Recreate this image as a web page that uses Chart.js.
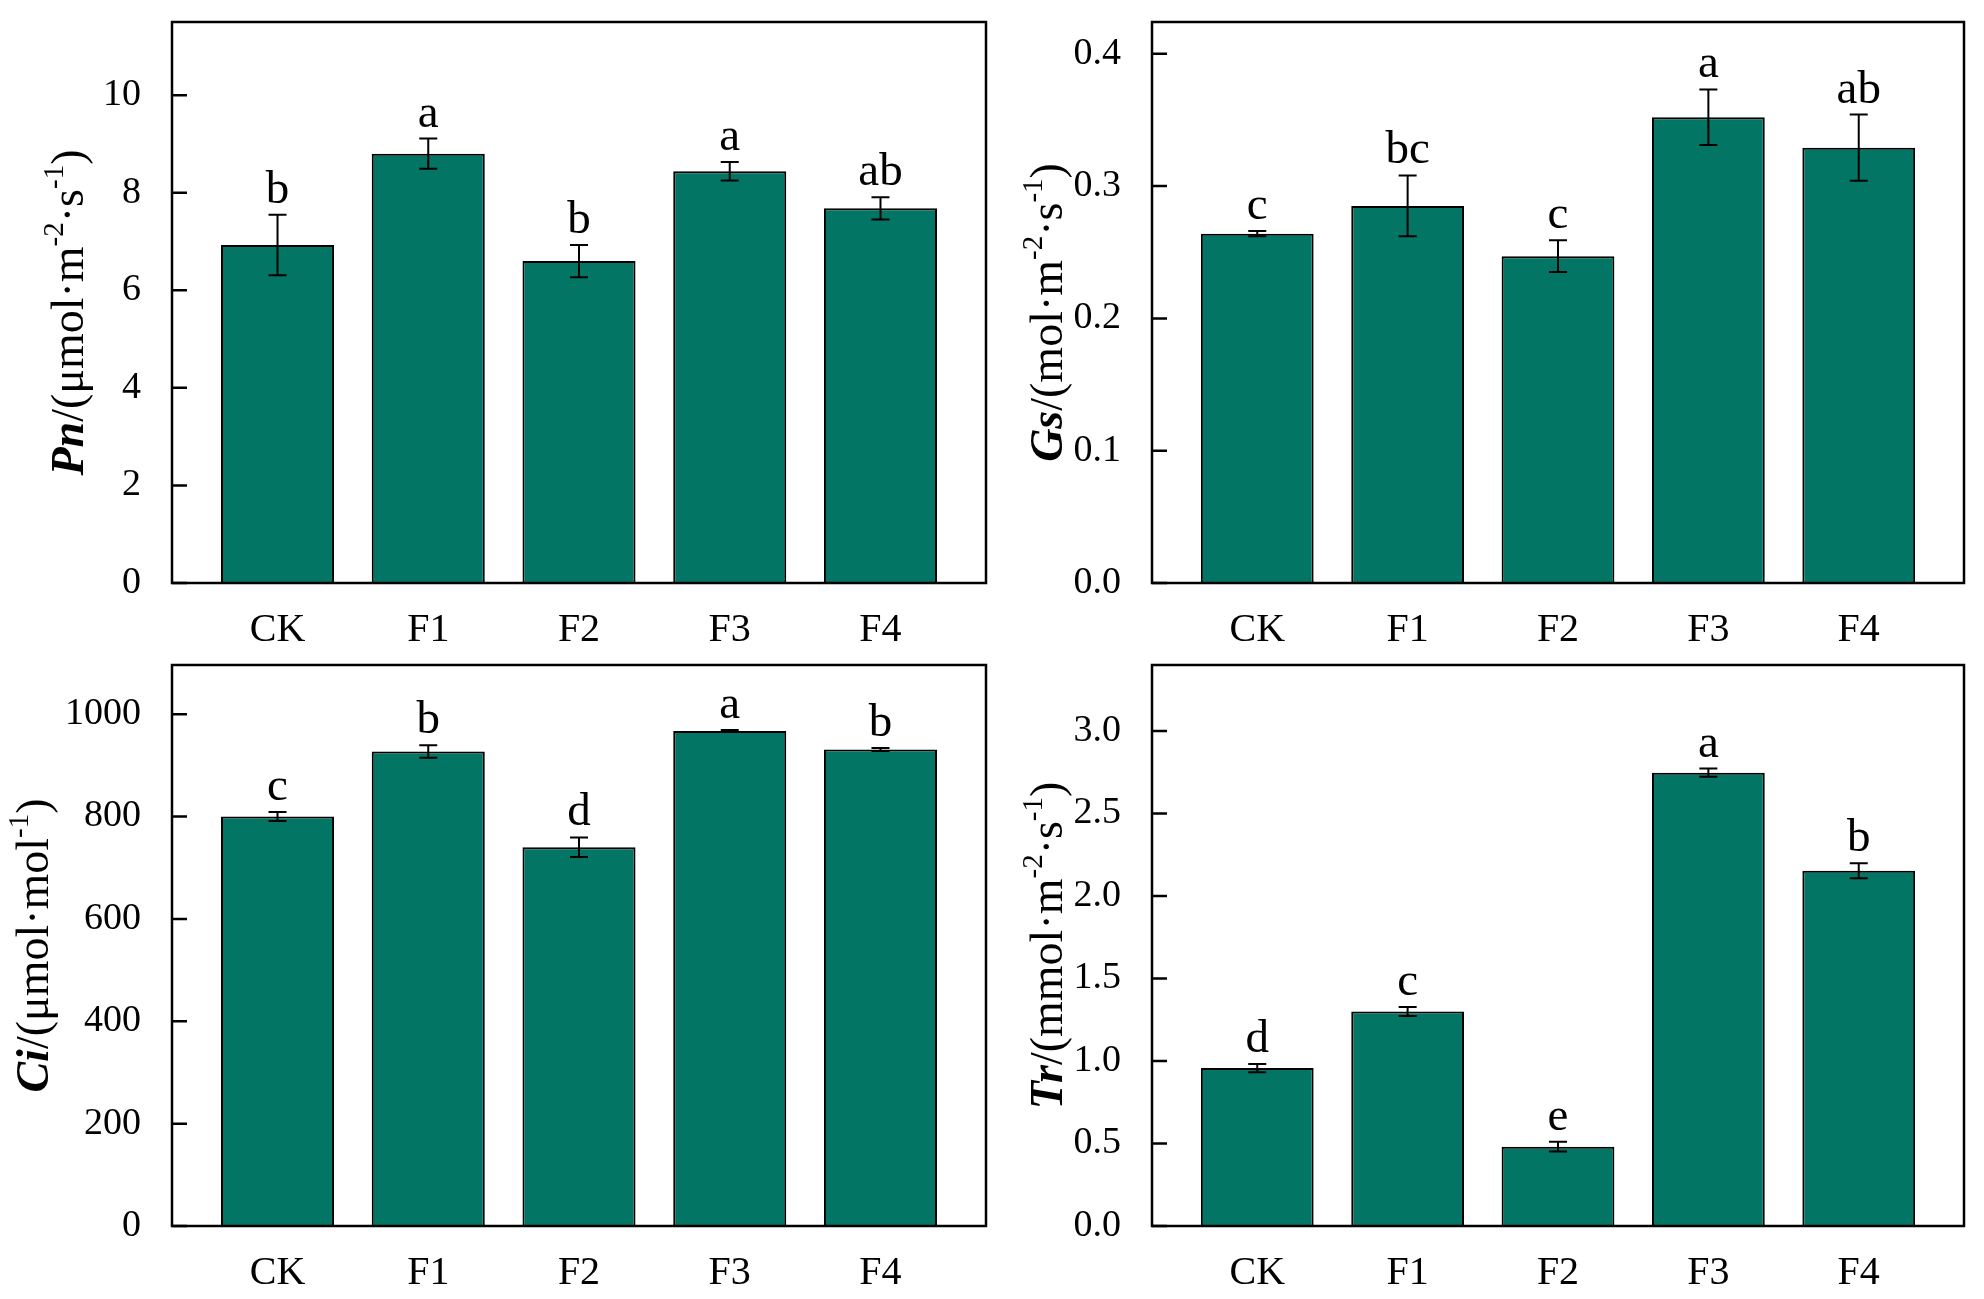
<!DOCTYPE html>
<html><head><meta charset="utf-8">
<script src="https://cdn.jsdelivr.net/npm/chart.js@4"></script>
<style>
html,body{margin:0;padding:0;background:#fff;}
#wrap{position:relative;width:1984px;height:1299px;background:#fff;}
canvas{position:absolute;}
</style></head><body>
<div id="wrap">
<canvas id="c1" width="992" height="650" style="left:0px;top:0px;width:992px;height:650px"></canvas>
<canvas id="c2" width="992" height="650" style="left:992px;top:0px;width:992px;height:650px"></canvas>
<canvas id="c3" width="992" height="649" style="left:0px;top:650px;width:992px;height:649px"></canvas>
<canvas id="c4" width="992" height="649" style="left:992px;top:650px;width:992px;height:649px"></canvas>
</div>
<script>
// ---- data ----
const categories = ['CK', 'F1', 'F2', 'F3', 'F4'];

const pnValues  = [6.93, 8.80, 6.60, 8.44, 7.68];
const pnErrors  = [0.62, 0.31, 0.33, 0.19, 0.23];
const pnLetters = ['b', 'a', 'b', 'a', 'ab'];
const pnTicks   = [0, 2, 4, 6, 8, 10];
const pnMax     = 11.5;

const gsValues  = [0.264, 0.285, 0.247, 0.352, 0.329];
const gsErrors  = [0.002, 0.023, 0.012, 0.021, 0.025];
const gsLetters = ['c', 'bc', 'c', 'a', 'ab'];
const gsTicks   = [0.0, 0.1, 0.2, 0.3, 0.4];
const gsMax     = 0.424;

const ciValues  = [800, 927, 740, 967, 931];
const ciErrors  = [9, 12, 19, 2, 3];
const ciLetters = ['c', 'b', 'd', 'a', 'b'];
const ciTicks   = [0, 200, 400, 600, 800, 1000];
const ciMax     = 1096;

const trValues  = [0.957, 1.30, 0.481, 2.747, 2.153];
const trErrors  = [0.025, 0.028, 0.030, 0.025, 0.045];
const trLetters = ['d', 'c', 'e', 'a', 'b'];
const trTicks   = [0.0, 0.5, 1.0, 1.5, 2.0, 2.5, 3.0];
const trMax     = 3.4;

// y-axis titles: [text, style] parts; style: 'v' variable (bold italic), 'n' normal, 's' superscript
const pnTitle = [['Pn','v'], ['/(μmol·m','n'], ['-2','s'], ['·s','n'], ['-1','s'], [')','n']];
const gsTitle = [['Gs','v'], ['/(mol·m','n'], ['-2','s'], ['·s','n'], ['-1','s'], [')','n']];
const ciTitle = [['Ci','v'], ['/(μmol·mol','n'], ['-1','s'], [')','n']];
const trTitle = [['Tr','v'], ['/(mmol·m','n'], ['-2','s'], ['·s','n'], ['-1','s'], [')','n']];

// ---- styling ----
const FONT = '"Liberation Serif", "Times New Roman", serif';
const BAR_COLOR = '#027564';
Chart.defaults.font.family = FONT;
Chart.defaults.color = '#000';

const decoPlugin = {
  id: 'deco',
  afterDatasetsDraw(chart) {
    const o = chart.options.plugins.deco;
    const ctx = chart.ctx;
    const xs = chart.scales.x, ys = chart.scales.y;
    const ca = chart.chartArea;
    ctx.save();
    // error bars + significance letters
    ctx.strokeStyle = '#000';
    ctx.lineWidth = 2;
    ctx.font = '47px ' + FONT;
    ctx.fillStyle = '#000';
    ctx.textAlign = 'center';
    ctx.textBaseline = 'alphabetic';
    o.values.forEach((v, i) => {
      const x = xs.getPixelForValue(i);
      const yt = ys.getPixelForValue(v + o.errors[i]);
      const yb = ys.getPixelForValue(v - o.errors[i]);
      const cap = 9;
      ctx.beginPath();
      ctx.moveTo(x, yt); ctx.lineTo(x, yb);
      ctx.moveTo(x - cap, yt); ctx.lineTo(x + cap, yt);
      ctx.moveTo(x - cap, yb); ctx.lineTo(x + cap, yb);
      ctx.stroke();
      ctx.fillText(o.letters[i], x, yt - 12);
    });
    // frame
    ctx.lineWidth = 2.5;
    ctx.strokeRect(ca.left, ca.top, ca.right - ca.left, ca.bottom - ca.top);
    // inward y ticks
    ctx.beginPath();
    ys.ticks.forEach(t => {
      const y = ys.getPixelForValue(t.value);
      ctx.moveTo(ca.left, y); ctx.lineTo(ca.left + 15, y);
    });
    ctx.stroke();
    // y title
    const size = 46;
    const parts = o.title.map(([t, s]) => {
      const f = s === 'v' ? 'italic bold ' + size + 'px ' + FONT
              : s === 's' ? Math.round(size * 0.62) + 'px ' + FONT
              : size + 'px ' + FONT;
      ctx.font = f;
      return {t, s, f, w: ctx.measureText(t).width};
    });
    const total = parts.reduce((a, p) => a + p.w, 0);
    const cy = (ca.top + ca.bottom) / 2 + o.titleShift;
    ctx.translate(o.titleX, cy);
    ctx.rotate(-Math.PI / 2);
    ctx.textAlign = 'left';
    ctx.textBaseline = 'middle';
    let px = -total / 2;
    parts.forEach(p => {
      ctx.font = p.f;
      ctx.fillText(p.t, px, p.s === 's' ? -size * 0.33 : 0);
      px += p.w;
    });
    ctx.restore();
  }
};

function makeChart(id, values, errors, letters, ticks, yMax, decimals, title, box) {
  const canvas = document.getElementById(id);
  const W = canvas.width, H = canvas.height;
  return new Chart(canvas, {
    type: 'bar',
    data: {
      datasets: [{
        data: values.map((v, i) => ({x: i, y: v})),
        backgroundColor: BAR_COLOR,
        borderColor: '#000',
        borderWidth: 2,
        borderSkipped: 'start',
        categoryPercentage: 1.0,
        barPercentage: 0.75
      }]
    },
    plugins: [decoPlugin],
    options: {
      responsive: false,
      animation: false,
      devicePixelRatio: 1,
      layout: {padding: {left: 0, right: W - box.right, top: box.top, bottom: 0}},
      plugins: {
        legend: {display: false},
        tooltip: {enabled: false},
        deco: {values, errors, letters, title, titleX: box.titleX, titleShift: box.titleShift || 0}
      },
      scales: {
        x: {
          type: 'linear',
          min: -0.7, max: 4.7,
          bounds: 'data',
          offset: false,
          grid: {display: false, offset: false},
          border: {display: false},
          afterBuildTicks: s => { s.ticks = categories.map((c, i) => ({value: i})); },
          afterFit: s => { s.height = H - box.bottom; s.paddingLeft = 0; s.paddingRight = 0; },
          ticks: {
            font: {size: 40},
            padding: 15,
            maxRotation: 0,
            autoSkip: false,
            callback: v => categories[v]
          }
        },
        y: {
          type: 'linear',
          min: 0, max: yMax,
          bounds: 'data',
          grid: {display: false},
          border: {display: false},
          afterBuildTicks: s => { s.ticks = ticks.map(v => ({value: v})); },
          afterFit: s => { s.width = box.left; s.paddingTop = 0; s.paddingBottom = 0; },
          ticks: {
            font: {size: 38},
            padding: 23,
            autoSkip: false,
            callback: v => v.toFixed(decimals)
          }
        }
      }
    }
  });
}

makeChart('c1', pnValues, pnErrors, pnLetters, pnTicks, pnMax, 0, pnTitle,
  {left: 172, right: 986, top: 22, bottom: 583, titleX: 71, titleShift: 10});
makeChart('c2', gsValues, gsErrors, gsLetters, gsTicks, gsMax, 1, gsTitle,
  {left: 160, right: 972, top: 22, bottom: 583, titleX: 58, titleShift: 10});
makeChart('c3', ciValues, ciErrors, ciLetters, ciTicks, ciMax, 0, ciTitle,
  {left: 172, right: 986, top: 15, bottom: 576, titleX: 36, titleShift: 0});
makeChart('c4', trValues, trErrors, trLetters, trTicks, trMax, 1, trTitle,
  {left: 160, right: 972, top: 15, bottom: 576, titleX: 58, titleShift: 0});
</script>
</body></html>
